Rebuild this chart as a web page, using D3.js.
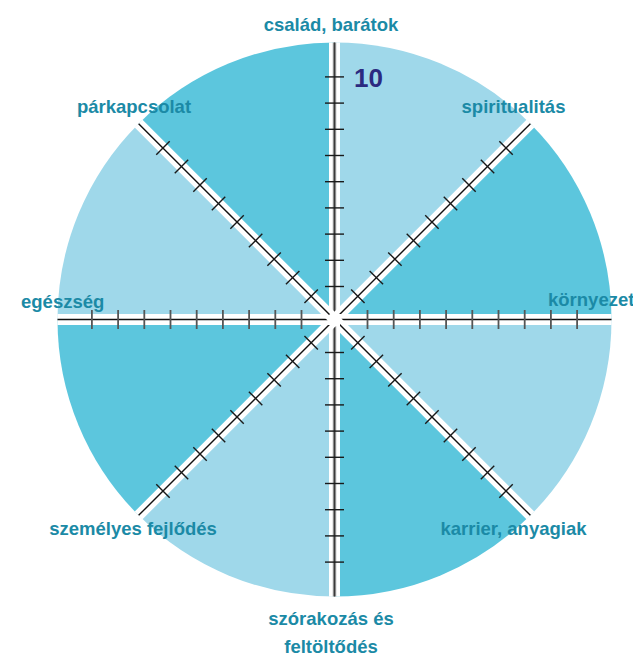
<!DOCTYPE html>
<html>
<head>
<meta charset="utf-8">
<script src="https://cdn.jsdelivr.net/npm/d3@7"></script>
<style>
  html, body { margin: 0; padding: 0; background: #fff; }
  svg { display: block; }
</style>
</head>
<body>
<svg id="wheel"></svg>
<script>
/*  Data: the eight areas of the wheel, clockwise from the top ---*/
const categories = [
  "család, barátok",
  "spiritualitás",
  "környezet",
  "karrier, anyagiak",
  "szórakozás és feltöltődés",
  "személyes fejlődés",
  "egészség",
  "párkapcsolat"
];
/*  label lines (one entry per category) ---------------------*/
const categoryLines = [
  ["család, barátok"],
  ["spiritualitás"],
  ["környezet"],
  ["karrier, anyagiak"],
  ["szórakozás és", "feltöltődés"],
  ["személyes fejlődés"],
  ["egészség"],
  ["párkapcsolat"]
];
/*  scale of every spoke and the tick values that are marked --*/
const scaleDomain = [1, 10];
const tickValues = [2, 3, 4, 5, 6, 7, 8, 9, 10];
const scaleLabel = ["10"];
/*  sector colours, sector 0 starts at the top spoke ----------*/
const sectorColors = ["#9fd8ea", "#5cc6dd"];

/*  Layout ---------------------------------------------------*/
const width = 633, height = 656;
const cx = 334.5, cy = 319.5, radius = 277;
const labelColor = "#1b8aa6";

/*  label anchor points: absolute x, baseline y, text-anchor --*/
const labelLayout = [
  {x: 331,   y: 31,  anchor: "middle"},
  {x: 513.5, y: 113, anchor: "middle"},
  {x: 548,   y: 306, anchor: "start"},
  {x: 513.5, y: 535, anchor: "middle"},
  {x: 331,   y: 625, anchor: "middle"},
  {x: 133,   y: 535, anchor: "middle"},
  {x: 21,    y: 308, anchor: "start"},
  {x: 134,   y: 113, anchor: "middle"}
];

const svg = d3.select("#wheel")
  .attr("width", width)
  .attr("height", height);

/*  angle of each spoke (clockwise from 12 o'clock) -----------*/
const angle = d3.scaleBand()
  .domain(d3.range(categories.length))
  .range([0, 2 * Math.PI]);

/*  distance of a value along a spoke --------------------------*/
const r = d3.scaleLinear()
  .domain(scaleDomain)
  .range([6.8, 242.6]);

const polar = (a, d) => [cx + d * Math.sin(a), cy - d * Math.cos(a)];

const g = svg.append("g");

/*  sectors ---------------------------------------------------*/
const arc = d3.arc()
  .innerRadius(0)
  .outerRadius(radius);

g.append("g")
  .attr("transform", `translate(${cx},${cy})`)
  .selectAll("path")
  .data(categories.map((c, i) => i))
  .join("path")
  .attr("d", i => arc({startAngle: angle(i), endAngle: angle(i) + angle.bandwidth()}))
  .attr("fill", i => sectorColors[i % 2]);

/*  white bands under each spoke -------------------------------*/
const spokes = g.append("g").selectAll("g")
  .data(categories.map((c, i) => i))
  .join("g");

spokes.append("line")
  .attr("x1", cx).attr("y1", cy)
  .attr("x2", i => polar(angle(i), radius)[0])
  .attr("y2", i => polar(angle(i), radius)[1])
  .attr("stroke", "#fff")
  .attr("stroke-width", 11);

g.append("circle")
  .attr("cx", cx).attr("cy", cy).attr("r", 7)
  .attr("fill", "#fff");

/*  spoke axes: the vertical ones are grey double lines,
 *  the others thin black lines ------------------------------*/
const isVertical = i => i % 4 === 0;
const isHorizontal = i => i % 4 === 2;

spokes.filter(isVertical).append("line")
  .attr("x1", i => polar(angle(i), 5)[0])
  .attr("y1", i => polar(angle(i), 5)[1])
  .attr("x2", i => polar(angle(i), radius)[0])
  .attr("y2", i => polar(angle(i), radius)[1])
  .attr("stroke", "#8a8a8a")
  .attr("stroke-width", 3.4);

spokes.append("line")
  .attr("x1", i => polar(angle(i), 4)[0])
  .attr("y1", i => polar(angle(i), 4)[1])
  .attr("x2", i => polar(angle(i), radius)[0])
  .attr("y2", i => polar(angle(i), radius)[1])
  .attr("stroke", i => isVertical(i) ? "#3a3a3a" : "#111")
  .attr("stroke-width", i => isVertical(i) ? 1 : 1.4);

/*  ticks along each spoke -----------------------------------*/
const tickLen = 9.5;
spokes.each(function(i) {
  const a = angle(i);
  const px = Math.cos(a), py = Math.sin(a);
  d3.select(this).selectAll(".tick")
    .data(tickValues)
    .join("line")
    .attr("class", "tick")
    .attr("x1", v => polar(a, r(v))[0] - px * tickLen)
    .attr("y1", v => polar(a, r(v))[1] - py * tickLen)
    .attr("x2", v => polar(a, r(v))[0] + px * tickLen)
    .attr("y2", v => polar(a, r(v))[1] + py * tickLen)
    .attr("stroke", isHorizontal(i) ? "#555" : "#1a1a1a")
    .attr("stroke-width", isHorizontal(i) ? 1.8 : 1.4);
});

/*  maximum value label on the top spoke ---------------------*/
svg.append("text")
  .attr("x", cx + 19.5)
  .attr("y", polar(0, r(d3.max(tickValues)))[1] + 10.5)
  .attr("font-family", "'Liberation Sans', Arial, sans-serif")
  .attr("font-weight", "bold")
  .attr("font-size", 26)
  .attr("fill", "#2b2a80")
  .text(scaleLabel[0]);

/*  category labels -------------------------------------------*/
svg.append("g").selectAll("text")
  .data(categories.map((c, i) => i))
  .join("text")
  .attr("x", i => labelLayout[i].x)
  .attr("y", i => labelLayout[i].y)
  .attr("text-anchor", i => labelLayout[i].anchor)
  .attr("font-family", "'Liberation Sans', Arial, sans-serif")
  .attr("font-weight", "bold")
  .attr("font-size", 18.5)
  .attr("fill", labelColor)
  .selectAll("tspan")
  .data(i => categoryLines[i].map(t => ({t, i})))
  .join("tspan")
  .attr("x", d => labelLayout[d.i].x)
  .attr("dy", (d, k) => k === 0 ? 0 : 28)
  .text(d => d.t);
</script>
</body>
</html>
